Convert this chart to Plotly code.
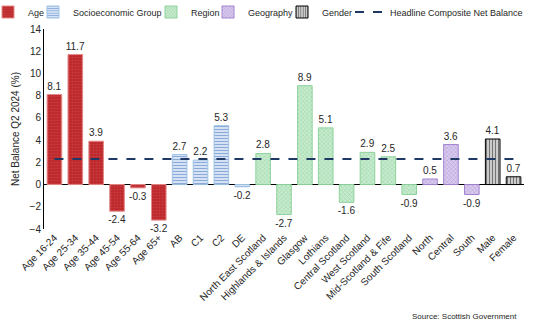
import plotly.graph_objects as go

age_cats = ["Age 16-24", "Age 25-34", "Age 35-44", "Age 45-54", "Age 55-64", "Age 65+"]
age_vals = [8.1, 11.7, 3.9, -2.4, -0.3, -3.2]
seg_cats = ["AB", "C1", "C2", "DE"]
seg_vals = [2.7, 2.2, 5.3, -0.2]
reg_cats = ["North East Scotland", "Highlands & Islands", "Glasgow", "Lothians",
            "Central Scotland", "West Scotland", "Mid-Scotland & Fife", "South Scotland"]
reg_vals = [2.8, -2.7, 8.9, 5.1, -1.6, 2.9, 2.5, -0.9]
geo_cats = ["North", "Central", "South"]
geo_vals = [0.5, 3.6, -0.9]
gen_cats = ["Male", "Female"]
gen_vals = [4.1, 0.7]
headline = 2.3

all_cats = age_cats + seg_cats + reg_cats + geo_cats + gen_cats

FONT = "Liberation Sans, Arial, sans-serif"
TXT = "#262626"

# legend text start positions (pixels) for each entry
legend_text_px = [28, 73, 191, 248, 322, 390]
PLOT_L, PLOT_W = 44, 480
OFFSET = 40

def bar(name, cats, vals, fg, bg, line, shape, size, solidity, leg):
    return go.Bar(
        name=name, x=cats, y=vals, width=0.7, legend=leg,
        text=[f"{v:.1f}" for v in vals], textposition="outside", constraintext="none",
        textfont=dict(size=10, color=TXT, family=FONT),
        marker=dict(color=bg, line=dict(color=line, width=1),
                    pattern=dict(shape=shape, fgcolor=fg, bgcolor=bg,
                                 size=size, solidity=solidity, fillmode="overlay")),
        cliponaxis=False,
    )

fig = go.Figure()
fig.add_trace(bar("Age", age_cats, age_vals, "#D65A5E", "#BE2A2E", "#E58A8A", ".", 3, 0.2, "legend"))
fig.add_trace(bar("Socioeconomic Group", seg_cats, seg_vals, "#3A6CC0", "#DDE8F6", "#9DC3E6", "-", 3, 0.4, "legend2"))
fig.add_trace(bar("Region", reg_cats, reg_vals, "#5DBB72", "#C8EBCF", "#8ED29C", "x", 3, 0.3, "legend3"))
fig.add_trace(bar("Geography", geo_cats, geo_vals, "#8A63C0", "#D9CBEE", "#A284CF", "x", 3, 0.3, "legend4"))
fig.add_trace(bar("Gender", gen_cats, gen_vals, "#000000", "#e8e8e8", "#000000", "|", 3, 0.5, "legend5"))
fig.add_trace(go.Scatter(
    name="Headline Composite Net Balance", legend="legend6",
    x=[all_cats[0], all_cats[-1]], y=[headline, headline], mode="lines",
    line=dict(color="#1F3864", width=2, dash="dash"),
))

def leg(i):
    return dict(orientation="h", x=(legend_text_px[i] - OFFSET - PLOT_L) / PLOT_W,
                y=1 + (29 - 12) / 200, xanchor="left", yanchor="middle",
                font=dict(size=9, color=TXT, family=FONT), itemwidth=30,
                bgcolor="rgba(0,0,0,0)", borderwidth=0)

layout_legends = {("legend" if i == 0 else f"legend{i+1}"): leg(i) for i in range(6)}

fig.update_layout(
    width=536, height=326,
    margin=dict(l=44, r=12, t=29, b=97, autoexpand=False),
    paper_bgcolor="white", plot_bgcolor="white",
    barmode="overlay",
    font=dict(family=FONT, size=10, color=TXT),
    showlegend=True,
    xaxis=dict(type="category", categoryorder="array", categoryarray=all_cats,
               tickangle=-45, tickfont=dict(size=10, color=TXT), showline=False,
               showgrid=False, ticks="", range=[-0.5, len(all_cats) - 0.5]),
    yaxis=dict(range=[-4, 14], dtick=2, showgrid=False, zeroline=True,
               zerolinecolor="#000000", zerolinewidth=1, showline=True,
               linecolor="#000000", linewidth=1, ticks="",
               tickfont=dict(size=10, color=TXT),
               title=dict(text="Net Balance Q2 2024 (%)", font=dict(size=10, color=TXT), standoff=8)),
    annotations=[dict(text="Source: Scottish Government", xref="paper", yref="paper",
                      x=0.99, y=-0.435, xanchor="right", yanchor="middle", showarrow=False,
                      font=dict(size=8, color=TXT))],
    **layout_legends,
)

fig.write_html("out.html")
